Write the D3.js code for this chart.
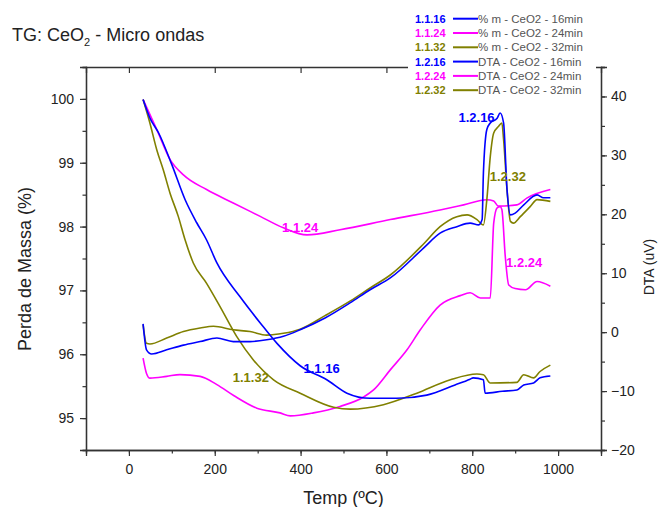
<!DOCTYPE html>
<html lang="pt">
<head>
  <meta charset="UTF-8">
  <title>TG: CeO2 - Micro ondas</title>
  <script src="https://d3js.org/d3.v7.min.js"></script>
  <style>
    body { margin: 0; background: #fff; font-family: "Liberation Sans", Arial, sans-serif; }
    .tick text { font-family: "Liberation Sans", Arial, sans-serif; font-size: 14px; fill: #222; }
    .domain, .tick line { stroke: #333; }
  </style>
</head>
<body>
  <div id="chart"></div>

  <script>
    // TG curves (% mass, left axis): [temp °C, % m]
    const tg16 = [[33,99.99],[49,99.7],[69,99.47],[100,98.97],[131,98.42],[158,98.06],[181,97.79],
      [205,97.43],[259,96.9],[306,96.49],[345,96.17],[399,95.82],[461,95.6],[508,95.39],[562,95.31],
      [624,95.31],[694,95.36],[760,95.52],[795,95.61],[802,95.63],[826,95.6],[830,95.39],[870,95.42],
      [904,95.44],[920,95.52],[943,95.55],[958,95.63],[982,95.66]];
    const tg24 = [[33,99.99],[65,99.52],[96,99.05],[127,98.81],[181,98.58],[243,98.37],[306,98.16],
      [360,97.98],[415,97.87],[492,97.95],[609,98.11],[725,98.26],[780,98.34],[834,98.42],[850,98.4],
      [861,98.32],[904,98.34],[928,98.45],[982,98.58]];
    const tg32 = [[33,99.99],[49,99.62],[65,99.2],[80,98.89],[96,98.52],[115,98.16],[131,97.79],
      [150,97.43],[181,97.11],[212,96.75],[251,96.28],[290,95.91],[337,95.6],[399,95.39],[477,95.17],
      [516,95.14],[593,95.21],[671,95.39],[749,95.6],[811,95.69],[826,95.68],[842,95.55],[904,95.56],
      [920,95.68],[943,95.63],[958,95.73],[982,95.83]];

    // DTA curves (uV, right axis): [temp °C, uV]
    const dta16 = [[33,1.4],[41,-3.0],[53,-3.7],[88,-3.0],[127,-2.2],[166,-1.6],[205,-1.0],[243,-1.6],
      [282,-1.6],[321,-1.3],[360,-0.7],[399,0.4],[457,2.4],[516,5.0],[562,7.2],[609,9.2],[687,14.3],
      [725,16.8],[764,17.9],[795,18.5],[815,18.2],[823,19.1],[826,27.0],[834,34.4],[842,35.5],
      [858,36.3],[865,37.2],[873,35.5],[881,24.2],[889,19.9],[900,20.2],[920,21.6],[951,23.3],
      [966,22.8],[982,22.8]];
    const dta24 = [[33,-4.4],[41,-7.0],[49,-7.8],[88,-7.5],[119,-7.2],[166,-7.5],[205,-8.9],[245,-10.8],
      [298,-12.9],[352,-13.7],[376,-14.2],[430,-13.7],[492,-12.6],[547,-11.0],[570,-9.8],[609,-6.4],
      [648,-3.0],[679,0.4],[725,4.6],[772,6.2],[795,6.7],[819,5.8],[842,5.8],[850,18.5],[858,21.1],
      [865,21.3],[869,20.8],[877,12.8],[885,8.0],[900,7.4],[924,7.2],[951,8.6],[982,7.8]];
    const dta32 = [[33,1.3],[41,-1.9],[49,-2.0],[88,-1.0],[127,0.1],[166,0.7],[197,1.0],[243,0.4],
      [282,0.1],[321,-0.5],[360,-0.2],[399,0.5],[457,2.8],[516,5.3],[562,7.5],[609,9.7],[687,15.0],
      [725,17.9],[764,19.6],[788,19.9],[811,19.1],[826,18.2],[834,22.5],[842,29.8],[850,33.8],
      [861,34.9],[869,35.5],[873,32.7],[881,24.2],[889,18.8],[896,18.5],[912,19.6],[935,21.3],
      [951,22.5],[982,22.2]];

    // curve labels: [text, temp, value, axis]
    const curveLabels = [
      ["1.1.16", 449, 95.71, "tg"], ["1.1.24", 399, 97.92, "tg"], ["1.1.32", 284, 95.57, "tg"],
      ["1.2.16", 810, 35.7, "dta"], ["1.2.24", 921, 11.0, "dta"], ["1.2.32", 883, 25.6, "dta"]
    ];

    const legendCodes = ["1.1.16", "1.1.24", "1.1.32", "1.2.16", "1.2.24", "1.2.32"];
    const legendNames = ["% m - CeO2 - 16min", "% m - CeO2 - 24min", "% m - CeO2 - 32min",
      "DTA - CeO2 - 16min", "DTA - CeO2 - 24min", "DTA - CeO2 - 32min"];

    const blue = "#0000ff", pink = "#ff00ff", olive = "#808000";
    const legendColors = [blue, pink, olive, blue, pink, olive];

    const W = 659, H = 507;
    const plotL = 86, plotR = 601, plotT = 67, plotB = 450;

    const svg = d3.select("#chart").append("svg")
      .attr("width", W).attr("height", H);

    const x = d3.scaleLinear().domain([-100, 1100]).range([plotL, plotR]);
    const yTG = d3.scaleLinear().domain([94.5, 100.5]).range([plotB, plotT]);
    const yDTA = d3.scaleLinear().domain([-20, 45]).range([plotB, plotT]);

    // axes: major ticks with labels, minor ticks without
    svg.append("g").attr("transform", `translate(0,${plotB})`)
      .call(d3.axisBottom(x).tickValues(d3.range(-100, 1101, 100)).tickSize(3.5).tickFormat(""));
    svg.append("g").attr("transform", `translate(0,${plotB})`)
      .call(d3.axisBottom(x).tickValues(d3.range(0, 1001, 200)).tickSize(6).tickPadding(8).tickFormat(d3.format("d")));

    svg.append("g").attr("transform", `translate(${plotL},0)`)
      .call(d3.axisLeft(yTG).tickValues(d3.range(94.5, 100.51, 0.5)).tickSize(3.5).tickFormat(""));
    svg.append("g").attr("transform", `translate(${plotL},0)`)
      .call(d3.axisLeft(yTG).tickValues(d3.range(95, 100.1, 1)).tickSize(6).tickPadding(6).tickFormat(d3.format("d")));

    svg.append("g").attr("transform", `translate(${plotR},0)`)
      .call(d3.axisRight(yDTA).tickValues(d3.range(-20, 46, 5)).tickSize(4).tickFormat(""));
    svg.append("g").attr("transform", `translate(${plotR},0)`)
      .call(d3.axisRight(yDTA).tickValues(d3.range(-20, 41, 10)).tickSize(6).tickPadding(4).tickFormat(d3.format("d")));

    // top frame with inward ticks
    svg.append("g").attr("transform", `translate(0,${plotT})`)
      .call(d3.axisTop(x).tickValues(d3.range(0, 1001, 200)).tickSize(-6).tickFormat(""));

    svg.selectAll(".domain").attr("stroke-width", 1.3);
    svg.selectAll(".tick line").attr("stroke-width", 1.2);

    // curves
    const lineTG = d3.line().curve(d3.curveMonotoneX).x(d => x(d[0])).y(d => yTG(d[1]));
    const lineDTA = d3.line().curve(d3.curveMonotoneX).x(d => x(d[0])).y(d => yDTA(d[1]));

    const curves = [
      [dta24, lineDTA, pink], [tg24, lineTG, pink],
      [tg32, lineTG, olive], [dta32, lineDTA, olive],
      [tg16, lineTG, blue], [dta16, lineDTA, blue]
    ];
    curves.forEach(([data, gen, col]) => {
      svg.append("path")
        .datum(data)
        .attr("fill", "none")
        .attr("stroke", col)
        .attr("stroke-width", 1.6)
        .attr("stroke-linejoin", "round")
        .attr("d", gen);
    });

    // curve labels
    svg.selectAll(".curve-label")
      .data(curveLabels)
      .enter().append("text")
      .attr("class", "curve-label")
      .attr("x", d => x(d[1]))
      .attr("y", d => d[3] === "tg" ? yTG(d[2]) : yDTA(d[2]))
      .attr("fill", d => d[0].endsWith("16") ? blue : d[0].endsWith("24") ? pink : olive)
      .style("font-size", "13px")
      .style("font-weight", "bold")
      .style("text-anchor", "middle")
      .text(d => d[0]);

    // legend (white box covers the top frame line)
    const lg = svg.append("g");
    lg.append("rect")
      .attr("x", 408).attr("y", 8).attr("width", 188).attr("height", 90)
      .attr("fill", "#fff");
    legendCodes.forEach((code, i) => {
      const yy = 22.7 + i * 14.3;
      lg.append("text")
        .attr("x", 415).attr("y", yy)
        .attr("fill", legendColors[i])
        .style("font-size", "11px").style("font-weight", "bold")
        .text(code);
      lg.append("line")
        .attr("x1", 453).attr("x2", 478)
        .attr("y1", yy - 4).attr("y2", yy - 4)
        .attr("stroke", legendColors[i]).attr("stroke-width", 2);
      lg.append("text")
        .attr("x", 478).attr("y", yy)
        .attr("fill", "#555")
        .style("font-size", "11.5px")
        .text(legendNames[i]);
    });

    // title
    const title = svg.append("text")
      .attr("x", 12).attr("y", 41)
      .attr("fill", "#222")
      .style("font-size", "18px");
    title.append("tspan").text("TG: CeO");
    title.append("tspan").attr("dy", 5).style("font-size", "11px").text("2");
    title.append("tspan").attr("dy", -5).text(" - Micro ondas");

    // axis titles
    svg.append("text")
      .attr("x", (plotL + plotR) / 2).attr("y", 504)
      .attr("fill", "#222")
      .style("font-size", "18px").style("text-anchor", "middle")
      .text("Temp (ºC)");

    svg.append("text")
      .attr("transform", "rotate(-90)")
      .attr("x", -269).attr("y", 31)
      .attr("fill", "#222")
      .style("font-size", "18px").style("text-anchor", "middle")
      .text("Perda de Massa (%)");

    svg.append("text")
      .attr("transform", "rotate(-90)")
      .attr("x", -267).attr("y", 654)
      .attr("fill", "#222")
      .style("font-size", "14px").style("text-anchor", "middle")
      .text("DTA (uV)");
  </script>
</body>
</html>
